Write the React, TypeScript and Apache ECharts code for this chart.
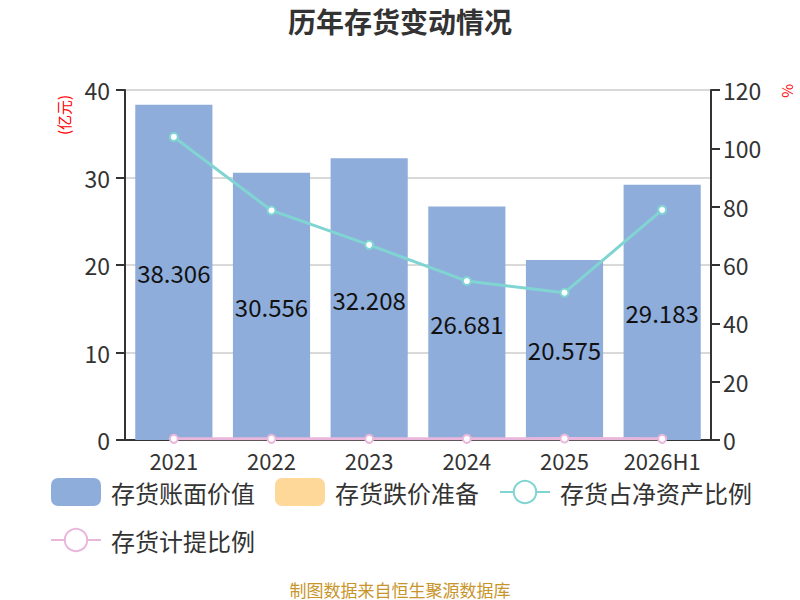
import React, { useEffect, useRef } from "react";
import * as echarts from "echarts";

const categories = ["2021", "2022", "2023", "2024", "2025", "2026H1"];
const bookValue = [38.306, 30.556, 32.208, 26.681, 20.575, 29.183];
const impairment = [0, 0, 0, 0, 0, 0];
const ratioNetAsset = [103.9, 78.7, 66.9, 54.5, 50.5, 78.9];
const provisionRatio = [0.4, 0.4, 0.4, 0.4, 0.5, 0.4];
const leftTicks = { min: 0, max: 40, interval: 10 };
const rightTicks = { min: 0, max: 120, interval: 20 };

const FONT = "'Noto Sans CJK SC', 'Noto Sans', sans-serif";

export default function App() {
  const ref = useRef<HTMLDivElement>(null);
  useEffect(() => {
    if (!ref.current) return;
    const chart = echarts.init(ref.current, undefined, { renderer: "svg" });
    chart.setOption({
      animation: false,
      textStyle: { fontFamily: FONT },
      title: {
        text: "历年存货变动情况",
        left: "center",
        top: 2,
        textStyle: { fontSize: 28, fontWeight: "bold", color: "#333", fontFamily: FONT },
      },
      grid: { left: 125, right: 89, top: 90, bottom: 160 },
      legend: {
        left: 45,
        top: 473,
        width: 740,
        itemWidth: 50,
        itemHeight: 28,
        itemGap: 20,
        textStyle: {
          fontSize: 24,
          lineHeight: 22,
          color: "#333",
          fontFamily: FONT,
          padding: [0, 0, 0, 5],
        },
        data: [
          { name: "存货账面价值", icon: "roundRect" },
          { name: "存货跌价准备", icon: "roundRect" },
          { name: "存货占净资产比例" },
          { name: "存货计提比例" },
        ],
      },
      xAxis: {
        type: "category",
        data: categories,
        axisLine: { lineStyle: { color: "#333", width: 2 } },
        axisTick: { length: 8, lineStyle: { color: "#333", width: 2 } },
        axisLabel: { fontSize: 22, lineHeight: 18, color: "#333", margin: 11, interval: 0 },
      },
      yAxis: [
        {
          type: "value",
          ...leftTicks,
          axisLine: { show: true, lineStyle: { color: "#333", width: 2 } },
          axisTick: { show: true, length: 9, lineStyle: { color: "#333", width: 2 } },
          axisLabel: { fontSize: 23, color: "#333", margin: 15 },
          splitLine: { lineStyle: { color: "#ccc", width: 1.5 } },
        },
        {
          type: "value",
          ...rightTicks,
          axisLine: { show: true, lineStyle: { color: "#333", width: 2 } },
          axisTick: { show: true, length: 9, lineStyle: { color: "#333", width: 2 } },
          axisLabel: { fontSize: 23, color: "#333", margin: 12 },
          splitLine: { show: false },
        },
      ],
      graphic: [
        {
          type: "text",
          x: 63,
          y: 115,
          rotation: Math.PI / 2,
          style: {
            text: "(亿元)",
            fill: "#ff0000",
            fontSize: 15,
            fontFamily: FONT,
            align: "center",
            verticalAlign: "middle",
          },
        },
        {
          type: "text",
          x: 788,
          y: 91,
          rotation: -Math.PI / 2,
          style: {
            text: "%",
            fill: "#ff0000",
            fontSize: 15,
            fontFamily: FONT,
            align: "center",
            verticalAlign: "middle",
          },
        },
        {
          type: "text",
          x: 400,
          y: 589,
          style: {
            text: "制图数据来自恒生聚源数据库",
            fill: "#c8952a",
            fontSize: 17,
            fontFamily: FONT,
            align: "center",
            verticalAlign: "middle",
          },
        },
      ],
      series: [
        {
          name: "存货账面价值",
          type: "bar",
          stack: "inv",
          data: bookValue,
          barCategoryGap: "21%",
          itemStyle: { color: "#8eaddb" },
          label: {
            show: true,
            position: "inside",
            fontSize: 24,
            color: "#111",
            fontFamily: FONT,
          },
        },
        {
          name: "存货跌价准备",
          type: "bar",
          stack: "inv",
          data: impairment,
          itemStyle: { color: "#fed899" },
        },
        {
          name: "存货占净资产比例",
          type: "line",
          yAxisIndex: 1,
          data: ratioNetAsset,
          symbol: "circle",
          symbolSize: 8,
          lineStyle: { color: "#80d5d3", width: 3 },
          itemStyle: { color: "#fff", borderColor: "#80d5d3", borderWidth: 2 },
          z: 5,
        },
        {
          name: "存货计提比例",
          type: "line",
          yAxisIndex: 1,
          data: provisionRatio,
          symbol: "circle",
          symbolSize: 8,
          lineStyle: { color: "#e9b7db", width: 3 },
          itemStyle: { color: "#fff", borderColor: "#e9b7db", borderWidth: 2 },
          z: 5,
        },
      ],
    });
    return () => chart.dispose();
  }, []);
  return (
    <div
      ref={ref}
      style={{ position: "absolute", left: 0, top: 0, width: 800, height: 600 }}
    />
  );
}
